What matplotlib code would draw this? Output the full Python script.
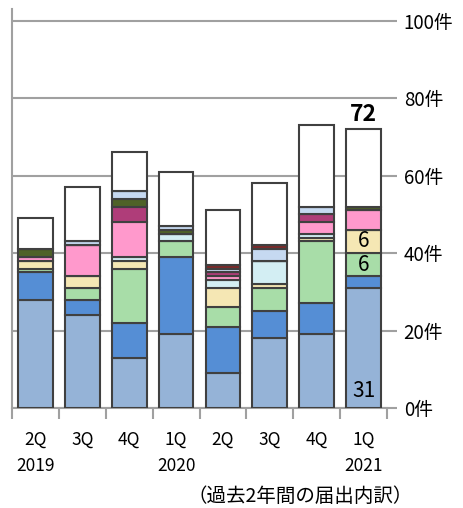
import matplotlib.pyplot as plt
import numpy as np

plt.rcParams['font.family'] = ['Noto Sans CJK JP', 'DejaVu Sans']

quarters = ['2Q\n2019', '3Q', '4Q', '1Q\n2020', '2Q', '3Q', '4Q', '1Q\n2021']

# counts per category, bottom to top
s1 = [28, 24, 13, 19, 9, 18, 19, 31]
s2 = [7, 4, 9, 20, 12, 7, 8, 3]
s3 = [1, 3, 14, 4, 5, 6, 16, 6]
s4 = [2, 3, 2, 0, 5, 1, 1, 6]
s5 = [0, 0, 1, 2, 2, 6, 1, 0]
s6 = [1, 8, 9, 0, 1, 0, 3, 5]
s7 = [0, 0, 4, 0, 1, 0, 2, 0]
s8 = [2, 0, 2, 1, 0, 0, 0, 1]
s9 = [0, 1, 2, 1, 1, 3, 2, 0]
s10 = [0, 0, 0, 0, 1, 1, 0, 0]
s11 = [8, 14, 10, 14, 14, 16, 21, 20]

series = [s1, s2, s3, s4, s5, s6, s7, s8, s9, s10, s11]
colors = ['#95B3D7', '#558ED5', '#A8DDA8', '#F5E7B4', '#D3EEF3', '#FF99CC',
          '#AF3D79', '#4F6228', '#C6D9F1', '#7B2B2B', '#FFFFFF']

fig = plt.figure(figsize=(4.63, 5.08), dpi=100)
ax = fig.add_axes([12 / 463, 1 - 408 / 508, 375 / 463, 399 / 508])

x = np.arange(len(quarters))
bottom = np.zeros(len(quarters))
for vals, c in zip(series, colors):
    ax.bar(x, vals, 0.74, bottom=bottom, color=c, edgecolor='#404040',
           linewidth=1.5, zorder=3)
    bottom += np.array(vals)

ax.set_xlim(-0.5, len(quarters) - 0.5)
ax.set_ylim(0, 103)

ax.set_yticks([0, 20, 40, 60, 80, 100])
ax.set_yticklabels(['%d件' % v for v in [0, 20, 40, 60, 80, 100]], fontsize=13.5)
ax.yaxis.tick_right()
ax.tick_params(axis='y', length=7, width=1.5, color='#A0A0A0', pad=5)
ax.grid(axis='y', color='#A0A0A0', linewidth=1.5, zorder=0)

ax.set_xticks(x)
ax.set_xticklabels(quarters, fontsize=12.5, linespacing=1.6)
ax.set_xticks(np.arange(len(quarters) + 1) - 0.5, minor=True)
ax.tick_params(axis='x', which='major', length=0, pad=16)
ax.tick_params(axis='x', which='minor', length=8, width=1.5, color='#A0A0A0')

for side in ['top', 'right']:
    ax.spines[side].set_visible(False)
for side in ['left', 'bottom']:
    ax.spines[side].set_color('#A0A0A0')
    ax.spines[side].set_linewidth(1.5)

# labels on the last bar
last = len(quarters) - 1
ax.text(last, bottom[last] + 0.8, '%d' % bottom[last], ha='center', va='bottom',
        fontsize=16.5, fontweight='bold', zorder=4)
ax.text(last, 1.5, '%d' % s1[last], ha='center', va='bottom', fontsize=15, zorder=4)
b3 = s1[last] + s2[last]
ax.text(last, b3 + s3[last] / 2, '%d' % s3[last], ha='center', va='center',
        fontsize=15, zorder=4)
b4 = b3 + s3[last]
ax.text(last, b4 + s4[last] / 2, '%d' % s4[last], ha='center', va='center',
        fontsize=15, zorder=4)

fig.text(300 / 463, 1 - 496 / 508, '（過去2年間の届出内訳）', ha='center',
         va='center', fontsize=14)

fig.savefig('out.png', dpi=100)
